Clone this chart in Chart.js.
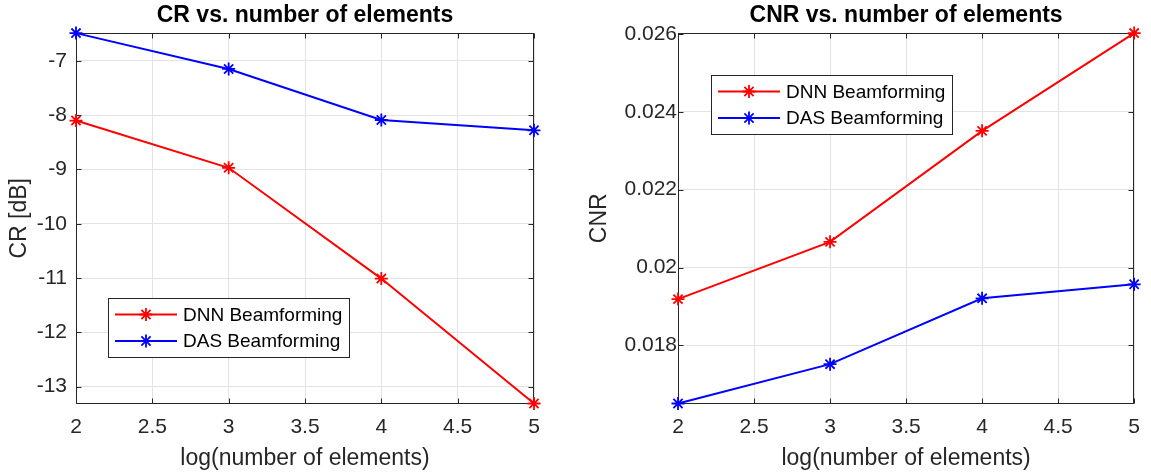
<!DOCTYPE html>
<html><head><meta charset="utf-8">
<script src="https://cdn.jsdelivr.net/npm/chart.js@4.4.1/dist/chart.umd.min.js"></script>
<style>
html,body{margin:0;padding:0;background:#fff;}
#wrap{position:relative;width:1151px;height:476px;overflow:hidden;}
.box{position:absolute;top:0;height:476px;}
</style></head><body>
<div id="wrap">
<div class="box" style="left:0;width:580px"><canvas id="c1"></canvas></div>
<div class="box" style="left:580px;width:571px"><canvas id="c2"></canvas></div>
</div>
<script>
// ---- data ----
const xValues = [2, 3, 4, 5];
const xTicks = [2, 2.5, 3, 3.5, 4, 4.5, 5];
const seriesNames = ['DNN Beamforming', 'DAS Beamforming'];
const crDNN = [-8.10, -8.97, -11.01, -13.31];
const crDAS = [-6.49, -7.15, -8.09, -8.28];
const crTicks = [-13, -12, -11, -10, -9, -8, -7];
const cnrDNN = [0.01919, 0.02066, 0.02351, 0.02602];
const cnrDAS = [0.01651, 0.01752, 0.01921, 0.01957];
const cnrTicks = [0.018, 0.020, 0.022, 0.024, 0.026];

const FONT = "'Liberation Sans', Arial, Helvetica, sans-serif";
const TXT = '#262626';
const GRID = '#e3e3e3';

const framePlugin = {
  id: 'frame',
  beforeDatasetsDraw(chart) {
    const {ctx, chartArea: a, scales} = chart;
    ctx.save();
    ctx.strokeStyle = TXT;
    ctx.lineWidth = 1;
    const L = Math.round(a.left) + 0.5, R = Math.round(a.right) - 0.5;
    const T = Math.round(a.top) + 0.5, B = Math.round(a.bottom) - 0.5;
    ctx.strokeRect(L, T, R - L, B - T);
    const tl = 5;
    ctx.beginPath();
    scales.x.ticks.forEach(t => {
      const px = Math.round(scales.x.getPixelForValue(t.value)) + 0.5;
      ctx.moveTo(px, B); ctx.lineTo(px, B - tl);
      ctx.moveTo(px, T); ctx.lineTo(px, T + tl);
    });
    scales.y.ticks.forEach(t => {
      const py = Math.round(scales.y.getPixelForValue(t.value)) + 0.5;
      ctx.moveTo(L, py); ctx.lineTo(L + tl, py);
      ctx.moveTo(R, py); ctx.lineTo(R - tl, py);
    });
    ctx.stroke();
    ctx.restore();
  }
};

const legendPlugin = {
  id: 'boxLegend',
  afterDraw(chart, args, opts) {
    const {ctx, chartArea: a} = chart;
    const x0 = Math.round(a.left + opts.dx), y0 = Math.round(a.top + opts.dy);
    const w = opts.w, h = opts.h;
    ctx.save();
    ctx.fillStyle = '#fff';
    ctx.fillRect(x0, y0, w, h);
    ctx.strokeStyle = TXT; ctx.lineWidth = 1;
    ctx.strokeRect(x0 + 0.5, y0 + 0.5, w, h);
    chart.data.datasets.forEach((ds, i) => {
      const y = y0 + opts.rows[i];
      ctx.strokeStyle = ds.borderColor;
      ctx.lineWidth = 2;
      ctx.beginPath(); ctx.moveTo(x0 + 7, y); ctx.lineTo(x0 + 69, y); ctx.stroke();
      ctx.lineWidth = 1.8;
      Chart.helpers.drawPoint(ctx, {pointStyle: 'star', radius: 6.5, borderWidth: 1.8, rotation: 0}, x0 + 38, y);
      ctx.fillStyle = '#000';
      ctx.font = '19px ' + FONT;
      ctx.textBaseline = 'middle';
      ctx.textAlign = 'left';
      ctx.fillText(ds.label, x0 + 75, y + 1);
    });
    ctx.restore();
  }
};

function makeChart(id, dnn, das, yTicks, title, yLabel, yWidth, padRight, yPad, leg, fmt) {
  const all = dnn.concat(das);
  return new Chart(document.getElementById(id), {
    type: 'line',
    data: {
      labels: xValues,
      datasets: [
        {label: seriesNames[0], data: xValues.map((x, i) => ({x, y: dnn[i]})), borderColor: '#ff0000', backgroundColor: '#ff0000'},
        {label: seriesNames[1], data: xValues.map((x, i) => ({x, y: das[i]})), borderColor: '#0000ff', backgroundColor: '#0000ff'}
      ].map(d => Object.assign(d, {borderWidth: 2, pointStyle: 'star', pointRadius: 6.5, pointBorderWidth: 1.8,
        pointBorderColor: d.borderColor, pointHoverRadius: 6.5, tension: 0, clip: false, fill: false}))
    },
    plugins: [framePlugin, legendPlugin],
    options: {
      responsive: true, maintainAspectRatio: false, animation: false,
      events: [],
      layout: {padding: {left: 0, right: padRight, top: 0, bottom: 0}},
      plugins: {
        legend: {display: false}, tooltip: {enabled: false},
        title: {display: true, fullSize: false, text: title, color: '#000',
          font: {family: FONT, size: 23, weight: 'bold', lineHeight: 1.2}, padding: {top: 1.5, bottom: 4}},
        boxLegend: leg
      },
      scales: {
        x: {
          type: 'linear', min: xValues[0], max: xValues[xValues.length - 1],
          afterBuildTicks: s => { s.ticks = xTicks.map(v => ({value: v})); },
          afterFit: s => { s.height = 476 - 403.5; },
          grid: {color: GRID, drawTicks: false, lineWidth: 1},
          border: {display: false},
          ticks: {color: TXT, font: {family: FONT, size: 21}, padding: 11, maxRotation: 0, autoSkip: false,
            callback: v => String(v)},
          title: {display: true, text: 'log(number of elements)', color: TXT,
            font: {family: FONT, size: 23, lineHeight: 1.2}, padding: {top: 0, bottom: 4}}
        },
        y: {
          type: 'linear', min: Math.min(...all), max: Math.max(...all),
          afterBuildTicks: s => { s.ticks = yTicks.map(v => ({value: v})); },
          afterFit: s => { s.width = yWidth; },
          grid: {color: GRID, drawTicks: false, lineWidth: 1},
          border: {display: false},
          ticks: {color: TXT, font: {family: FONT, size: 21}, padding: yPad, autoSkip: false, callback: fmt},
          title: {display: true, text: yLabel, color: TXT,
            font: {family: FONT, size: 23, lineHeight: 1.2}, padding: {top: 6, bottom: 0}}
        }
      }
    }
  });
}

makeChart('c1', crDNN, crDAS, crTicks, 'CR vs. number of elements', 'CR [dB]', 76, 46, 9,
  {dx: 32, dy: 264.5, w: 241, h: 59, rows: [16.5, 43]}, v => String(v));
makeChart('c2', cnrDNN, cnrDAS, cnrTicks, 'CNR vs. number of elements', 'CNR', 98, 13, 1,
  {dx: 33, dy: 41.5, w: 241, h: 59, rows: [16.5, 43]}, v => String(+v.toFixed(3)));
</script>
</body></html>
